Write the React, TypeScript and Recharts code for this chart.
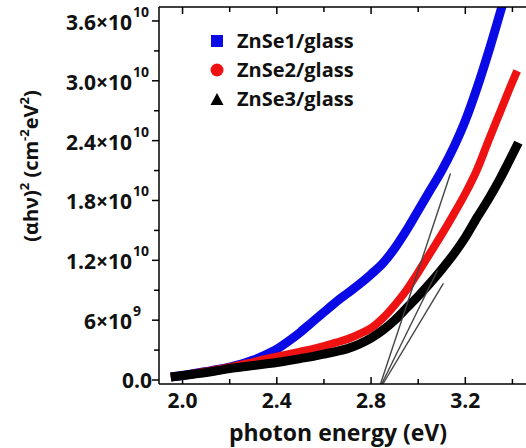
import React from "react";
import { ComposedChart, Line, XAxis, YAxis, Legend } from "recharts";

// photon energy grid (eV)
const energy = [
  1.95, 2.0, 2.05, 2.1, 2.15, 2.2, 2.25, 2.3, 2.35, 2.4, 2.45, 2.5, 2.55, 2.6, 2.65,
  2.7, 2.75, 2.8, 2.85, 2.9, 2.95, 3.0, 3.05, 3.1, 3.15, 3.2, 3.25, 3.3, 3.35, 3.4,
];

// (αhν)² in units of 10^9 cm^-2 eV^2
const znse1 = [
  0.3, 0.45, 0.65, 0.85, 1.05, 1.3, 1.6, 2.0, 2.5, 3.1, 3.9, 4.8, 5.8, 6.8, 7.8,
  8.7, 9.6, 10.6, 11.7, 13.2, 15.0, 17.0, 19.0, 21.0, 23.3, 26.0, 29.3, 33.0, 37.0, 41.0,
];
const znse2 = [
  0.3, 0.45, 0.65, 0.85, 1.05, 1.3, 1.55, 1.8, 2.1, 2.35, 2.6, 2.85, 3.1, 3.4, 3.75,
  4.1, 4.6, 5.2, 6.2, 7.5, 9.0, 10.8, 12.7, 14.6, 16.6, 18.7, 21.1, 24.1, 27.0, 29.9,
];
const znse3 = [
  0.3, 0.45, 0.6, 0.75, 0.95, 1.15, 1.3, 1.45, 1.6, 1.75, 1.95, 2.15, 2.35, 2.6, 2.85,
  3.15, 3.6, 4.2, 5.0, 6.0, 7.2, 8.4, 9.7, 11.1, 12.6, 14.3, 16.3, 18.2, 20.3, 22.6,
];
// last points past the common grid: [energy, value]
const znse2Last = [3.42, 31.0];
const znse3Last = [3.425, 23.8];

// linear extrapolations of the absorption edge down to the energy axis
const edgeFit1 = [{ e: 2.84, v: -0.4 }, { e: 3.137, v: 20.7 }];
const edgeFit2 = [{ e: 2.845, v: -0.4 }, { e: 3.082, v: 11.0 }];
const edgeFit3 = [{ e: 2.85, v: -0.4 }, { e: 3.107, v: 9.7 }];

const xTicks = [2.0, 2.2, 2.4, 2.6, 2.8, 3.0, 3.2, 3.4];
const xMajor = [2.0, 2.4, 2.8, 3.2];
const yTicks = [0, 3, 6, 9, 12, 15, 18, 21, 24, 27, 30, 33, 36];
const yMajor = [0, 6, 12, 18, 24, 30, 36];

const toRows = (xs: number[], ys: number[]) => xs.map((e, i) => ({ e, v: ys[i] }));
const rows1 = toRows(energy, znse1);
const rows2 = [...toRows(energy, znse2), { e: znse2Last[0], v: znse2Last[1] }];
const rows3 = [...toRows(energy, znse3), { e: znse3Last[0], v: znse3Last[1] }];

const FONT = "'Open Sans', sans-serif";

const yLabel = (v: number) => {
  if (v === 0) return { base: "0.0", sup: "" };
  if (v < 10) return { base: `${v}×10`, sup: "9" };
  return { base: `${(v / 10).toFixed(1)}×10`, sup: "10" };
};

const LeftTick = (props: any) => {
  const { x, y, payload } = props;
  const v = payload.value;
  const major = yMajor.includes(v);
  const lab = yLabel(v);
  return (
    <g>
      <line x1={x} x2={x - (major ? 7 : 5)} y1={y} y2={y} stroke="#000" strokeWidth={1.5} />
      {major && v === 0 && (
        <text x={x - 7} y={y + 8} textAnchor="end" fontSize={21} fontWeight={700} fill="#111">
          {lab.base}
        </text>
      )}
      {major && v !== 0 && (
        <>
          <text x={x - 27} y={y + 9} textAnchor="end" fontSize={21} fontWeight={700} fill="#111">
            {lab.base}
          </text>
          <text x={x - 26} y={y - 4} textAnchor="start" fontSize={14} fontWeight={700} fill="#111">
            {lab.sup}
          </text>
        </>
      )}
    </g>
  );
};

const BottomTick = (props: any) => {
  const { x, y, payload } = props;
  const major = xMajor.includes(payload.value);
  return (
    <g>
      <line x1={x} x2={x} y1={y} y2={y - (major ? 7 : 5)} stroke="#000" strokeWidth={1.5} />
      {major && (
        <text x={x} y={y + 24} textAnchor="middle" fontSize={21} fontWeight={700} fill="#111">
          {payload.value.toFixed(1)}
        </text>
      )}
    </g>
  );
};

const TopTick = (props: any) => {
  const { x, y, payload } = props;
  const major = xMajor.includes(payload.value);
  return <line x1={x} x2={x} y1={y} y2={y + (major ? 7 : 5)} stroke="#000" strokeWidth={1.5} />;
};

const XTitle = () => (
  <text x={338} y={441} textAnchor="middle" fontSize={23} fontWeight={700} fill="#111">
    photon energy (eV)
  </text>
);

const YTitle = () => (
  <text
    x={38}
    y={166}
    transform="rotate(-90 38 166)"
    textAnchor="middle"
    fontSize={20}
    fontWeight={700}
    fill="#111"
  >
    <tspan>(αhν)</tspan>
    <tspan fontSize={13} dy={-9}>2</tspan>
    <tspan dy={9}> (cm</tspan>
    <tspan fontSize={13} dy={-9}>-2</tspan>
    <tspan dy={9}>eV</tspan>
    <tspan fontSize={13} dy={-9}>2</tspan>
    <tspan dy={9}>)</tspan>
  </text>
);

const markerFor = (name: string, color: string) => {
  if (name.startsWith("ZnSe1")) return <rect x={1} y={1} width={12} height={12} fill={color} />;
  if (name.startsWith("ZnSe2")) return <circle cx={7} cy={7} r={6.5} fill={color} />;
  return <polygon points="7,1 13.5,13 0.5,13" fill={color} />;
};

const LegendBox = (props: any) => {
  const items = (props.payload || []).filter((p: any) => p.type !== "none");
  return (
    <div style={{ fontFamily: FONT }}>
      {items.map((p: any) => (
        <div key={p.value} style={{ display: "flex", alignItems: "center", height: 29 }}>
          <svg width={14} height={14} style={{ marginRight: 13 }}>
            {markerFor(p.value, p.color)}
          </svg>
          <span style={{ fontSize: 20, fontWeight: 700, color: "#111" }}>{p.value}</span>
        </div>
      ))}
    </div>
  );
};

export default function App() {
  return (
    <div
      style={{
        position: "absolute",
        left: 0,
        top: 0,
        width: 526,
        height: 448,
        overflow: "hidden",
        background: "#fff",
        fontFamily: FONT,
      }}
    >
      <ComposedChart width={540} height={448} margin={{ top: 6, right: 4, bottom: 0, left: 0 }}>
        <XAxis
          type="number"
          dataKey="e"
          domain={[1.9, 3.5]}
          ticks={xTicks}
          allowDataOverflow
          height={64}
          tickSize={0}
          tickMargin={0}
          tickLine={false}
          tick={<BottomTick />}
          axisLine={{ stroke: "#000", strokeWidth: 1.5 }}
          label={{ content: () => <XTitle /> }}
        />
        <XAxis
          xAxisId="top"
          orientation="top"
          type="number"
          dataKey="e"
          domain={[1.9, 3.5]}
          ticks={xTicks}
          allowDataOverflow
          height={1}
          tickSize={0}
          tickMargin={0}
          tickLine={false}
          tick={<TopTick />}
          axisLine={{ stroke: "#000", strokeWidth: 1.5 }}
        />
        <YAxis
          type="number"
          domain={[-0.4, 37.4]}
          ticks={yTicks}
          allowDataOverflow
          width={159}
          tickSize={0}
          tickMargin={0}
          tickLine={false}
          tick={<LeftTick />}
          axisLine={{ stroke: "#000", strokeWidth: 1.5 }}
          label={{ content: () => <YTitle /> }}
        />
        <Legend
          layout="vertical"
          align="center"
          verticalAlign="middle"
          content={<LegendBox />}
          wrapperStyle={{ left: 210, top: 26, width: 200, height: 90 }}
        />
        <Line data={rows1} dataKey="v" name="ZnSe1/glass" type="monotone" stroke="#0a0ae6" strokeWidth={9} dot={false} isAnimationActive={false} />
        <Line data={rows2} dataKey="v" name="ZnSe2/glass" type="monotone" stroke="#ee1212" strokeWidth={8} dot={false} isAnimationActive={false} />
        <Line data={rows3} dataKey="v" name="ZnSe3/glass" type="monotone" stroke="#000000" strokeWidth={9} dot={false} isAnimationActive={false} />
        <Line data={edgeFit1} dataKey="v" name="fit1" legendType="none" type="linear" stroke="#444" strokeWidth={1.4} dot={false} isAnimationActive={false} />
        <Line data={edgeFit2} dataKey="v" name="fit2" legendType="none" type="linear" stroke="#444" strokeWidth={1.4} dot={false} isAnimationActive={false} />
        <Line data={edgeFit3} dataKey="v" name="fit3" legendType="none" type="linear" stroke="#444" strokeWidth={1.4} dot={false} isAnimationActive={false} />
      </ComposedChart>
    </div>
  );
}
